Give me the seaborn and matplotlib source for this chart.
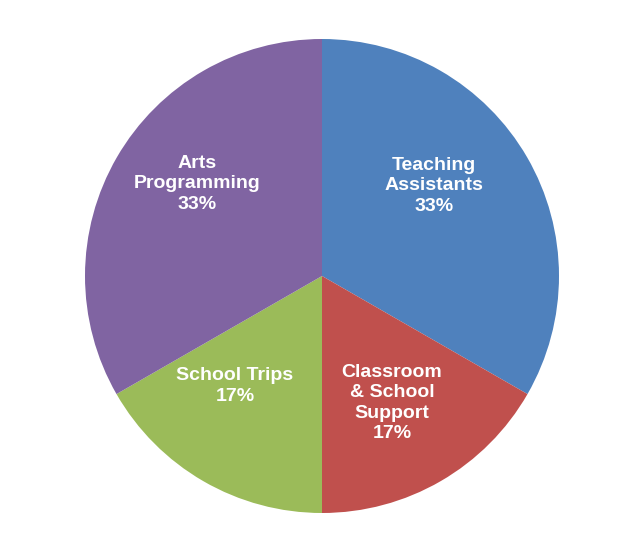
import matplotlib
matplotlib.use("Agg")
import matplotlib.pyplot as plt
import seaborn as sns

sns.set_theme(style="white")
plt.rcParams["font.family"] = ["Liberation Sans", "DejaVu Sans"]

# 資料
CATEGORIES = ["Teaching\nAssistants", "Classroom\n& School\nSupport", "School Trips", "Arts\nProgramming"]
SHARES = [33.3, 16.7, 16.7, 33.3]
COLORS = ["#4F81BD", "#C0504D", "#9BBB59", "#8064A2"]

# 版面（像素座標，y 往下）
W, H = 643, 553
CENTER = (322, 276)
RADIUS = 237
LABEL_POS = [(434, 186), (392, 403), (235, 386), (197, 184)]

fig = plt.figure(figsize=(W / 100, H / 100), dpi=100)
ax = fig.add_axes([0, 0, 1, 1])

ax.pie(
    SHARES,
    colors=sns.color_palette(COLORS),
    startangle=90,
    counterclock=False,
    center=(CENTER[0], H - CENTER[1]),
    radius=RADIUS,
    wedgeprops=dict(linewidth=0),
    frame=True,
)

for name, share, (x, y) in zip(CATEGORIES, SHARES, LABEL_POS):
    ax.text(x, H - y, f"{name}\n{share:.0f}%", ha="center", va="center",
            color="white", fontsize=14, fontweight="bold", linespacing=1.25)

ax.set_xlim(0, W)
ax.set_ylim(0, H)
ax.set_aspect("equal")
ax.axis("off")

fig.savefig("out.png", dpi=100, facecolor="white")
